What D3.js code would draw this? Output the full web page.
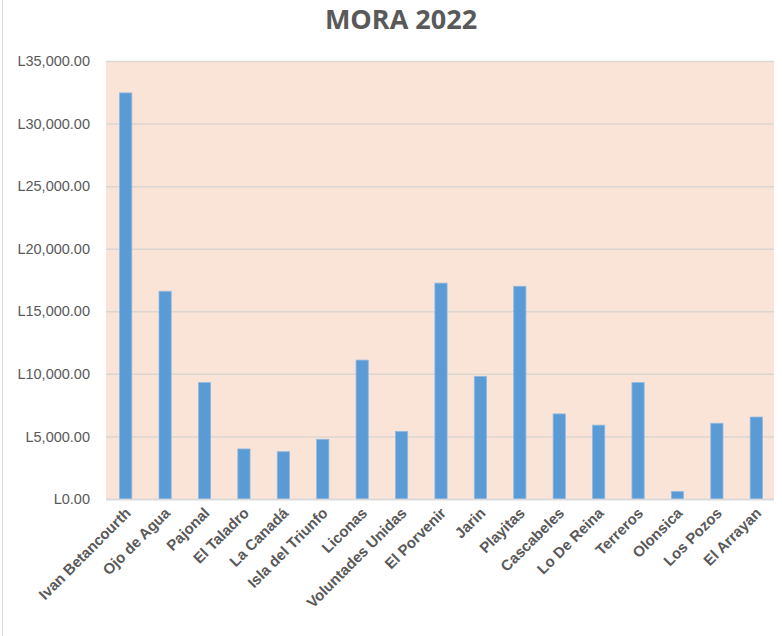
<!DOCTYPE html>
<html>
<head>
<meta charset="utf-8">
<script src="https://cdn.jsdelivr.net/npm/d3@7"></script>
<style>
  body { margin: 0; background: #fff; }
  svg { display: block; font-family: "Open Sans", "Liberation Sans", sans-serif; }
</style>
</head>
<body>
<svg width="782" height="636"></svg>
<script>
// datos
const aldeas = ["Ivan Betancourth", "Ojo de Agua", "Pajonal", "El Taladro", "La Canadá",
    "Isla del Triunfo", "Liconas", "Voluntades Unidas", "El Porvenir", "Jarin", "Playitas",
    "Cascabeles", "Lo De Reina", "Terreros", "Olonsica", "Los Pozos", "El Arrayan"];
const mora = [32450, 16600, 9300, 4000, 3780, 4770, 11100, 5400, 17250, 9800, 17000,
    6800, 5900, 9300, 600, 6050, 6550];
const ticksY = [0, 5000, 10000, 15000, 20000, 25000, 30000, 35000];
const titulo = "MORA 2022";

let attr_area = {
    left: 106,
    right: 774,
    top: 61,
    bottom: 499
};

let svg = d3.select("svg");

function drawChart() {
    // borde izquierdo del cuadro
    svg.append("line")
        .attr("x1", 2.5).attr("x2", 2.5)
        .attr("y1", 0).attr("y2", 636)
        .attr("stroke", "#d9d9d9");

    // fondo del area de trazado
    svg.append("rect")
        .attr("x", attr_area.left)
        .attr("y", attr_area.top)
        .attr("width", attr_area.right - attr_area.left)
        .attr("height", attr_area.bottom - attr_area.top)
        .attr("fill", "#fae4d7");

    let scaleX = d3.scaleBand()
        .domain(aldeas)
        .range([attr_area.left, attr_area.right + 2])
        .paddingInner(0.69)
        .paddingOuter(0.345);

    let scaleY = d3.scaleLinear()
        .domain([0, 35000])
        .range([attr_area.bottom, attr_area.top]);

    // lineas de cuadricula + etiquetas Y
    let axisY = d3.axisLeft(scaleY)
        .tickValues(ticksY)
        .tickSize(-(attr_area.right - attr_area.left))
        .tickPadding(16)
        .tickFormat(d => "L" + d3.format(",.2f")(d));

    let gY = svg.append("g")
        .attr("transform", `translate(${attr_area.left}, 0)`)
        .call(axisY);
    gY.select(".domain").remove();
    gY.selectAll("line").attr("stroke", "#dcd6d2").attr("stroke-width", 1.5);
    gY.selectAll("text")
        .attr("fill", "#595959")
        .style("font-size", "14.5px");

    // barras
    svg.selectAll(".bar")
        .data(mora)
        .enter()
        .append("rect")
        .attr("class", "bar")
        .attr("x", (d, i) => scaleX(aldeas[i]))
        .attr("y", d => scaleY(d))
        .attr("width", scaleX.bandwidth())
        .attr("height", d => scaleY(0) - scaleY(d))
        .attr("fill", "#5b9bd5")
        .attr("stroke", "#8fb9e3")
        .attr("stroke-width", 0.8);

    // eje X
    let axisX = d3.axisBottom(scaleX).tickSize(0).tickPadding(0);
    let gX = svg.append("g")
        .attr("transform", `translate(0, ${attr_area.bottom})`)
        .call(axisX);
    gX.select(".domain")
        .attr("d", `M${attr_area.left},0.5H${attr_area.right}`)
        .attr("stroke", "#d9d9d9")
        .attr("stroke-width", 1.5);
    gX.selectAll("text")
        .attr("fill", "#595959")
        .style("font-size", "15px")
        .style("font-weight", "bold")
        .style("text-anchor", "end")
        .attr("dx", "0")
        .attr("dy", "0")
        .attr("y", 0)
        .attr("transform", "translate(6, 15) rotate(-45)");

    // titulo
    svg.append("text")
        .attr("x", 401)
        .attr("y", 29)
        .attr("text-anchor", "middle")
        .attr("fill", "#595959")
        .style("font-size", "27px")
        .style("font-weight", "bold")
        .text(titulo);
}

drawChart();
</script>
</body>
</html>
